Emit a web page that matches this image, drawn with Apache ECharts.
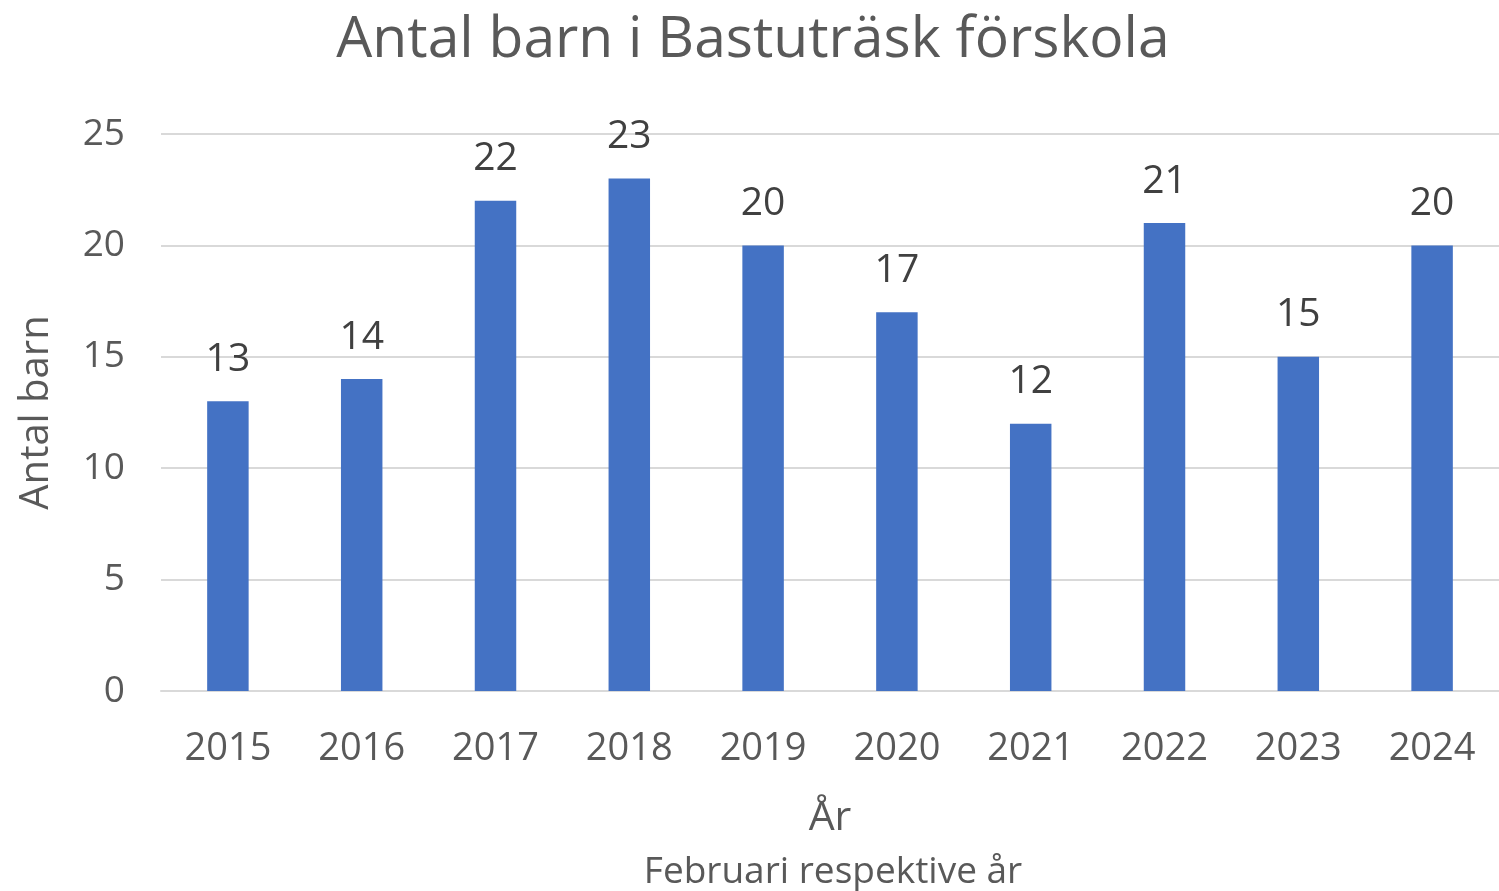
<!DOCTYPE html>
<html>
<head>
<meta charset="utf-8">
<script src="https://cdn.jsdelivr.net/npm/echarts@6/dist/echarts.min.js"></script>
<style>
html,body{margin:0;padding:0;background:#fff;}
#chart{width:1499px;height:891px;}
</style>
</head>
<body>
<div id="chart"></div>
<script>
const categories = ['2015','2016','2017','2018','2019','2020','2021','2022','2023','2024'];
const values = [13,14,22,23,20,17,12,21,15,20];
const yTicks = [0,5,10,15,20,25];

const chart = echarts.init(document.getElementById('chart'));
const font = '"Open Sans", "Noto Sans", sans-serif';
chart.setOption({
  backgroundColor: '#fff',
  animation: false,
  title: [
    {
      text: 'Antal barn i Bastuträsk förskola',
      left: 748, top: 7, textAlign: 'center',
      textStyle: {fontFamily: font, fontSize: 57, fontWeight: 'normal', color: '#595959'}
    },
    {
      text: 'Februari respektive år',
      left: 828, top: 849, textAlign: 'center',
      textStyle: {fontFamily: font, fontSize: 37, fontWeight: 'normal', color: '#595959'}
    }
  ],
  grid: {left: 161, right: 0, top: 134, bottom: 200, containLabel: false},
  xAxis: {
    type: 'category',
    data: categories,
    name: 'År',
    nameLocation: 'middle',
    nameGap: 107,
    nameTextStyle: {fontFamily: font, fontSize: 41, color: '#595959'},
    axisLine: {lineStyle: {color: '#d9d9d9', width: 2}},
    axisTick: {show: false},
    axisLabel: {fontFamily: font, fontSize: 38, color: '#595959', margin: 39}
  },
  yAxis: {
    type: 'value',
    min: yTicks[0], max: yTicks[yTicks.length-1], interval: 5,
    name: 'Antal barn',
    nameLocation: 'middle',
    nameGap: 104,
    nameRotate: 90,
    nameTextStyle: {fontFamily: font, fontSize: 40, color: '#595959'},
    axisLine: {show: false},
    axisTick: {show: false},
    axisLabel: {fontFamily: font, fontSize: 37, color: '#595959', margin: 36},
    splitLine: {lineStyle: {color: '#d9d9d9', width: 2}}
  },
  series: [{
    type: 'bar',
    data: values,
    barWidth: '31%',
    itemStyle: {color: '#4472C4'},
    label: {show: true, position: 'top', distance: 22, fontFamily: font, fontSize: 39, color: '#404040'}
  }]
});
</script>
</body>
</html>
